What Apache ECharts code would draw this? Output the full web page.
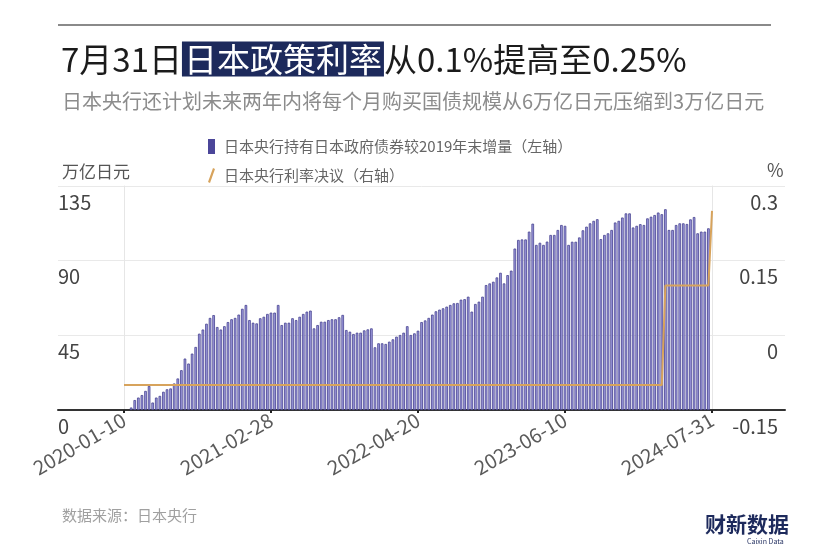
<!DOCTYPE html>
<html>
<head>
<meta charset="utf-8">
<script src="https://cdn.jsdelivr.net/npm/echarts/dist/echarts.min.js"></script>
<style>
html,body{margin:0;padding:0;background:#fff;}
#c{width:840px;height:560px;}
</style>
</head>
<body>
<div id="c"></div>
<script>
// ---- Data ----
const dates = [
'2020-01-10','2020-01-20','2020-01-31','2020-02-10','2020-02-20','2020-02-29','2020-03-10','2020-03-20','2020-03-31',
'2020-04-10','2020-04-20','2020-04-30','2020-05-10','2020-05-20','2020-05-31','2020-06-10','2020-06-20','2020-06-30',
'2020-07-10','2020-07-20','2020-07-31','2020-08-10','2020-08-20','2020-08-31','2020-09-10','2020-09-20','2020-09-30',
'2020-10-10','2020-10-20','2020-10-31','2020-11-10','2020-11-20','2020-11-30','2020-12-10','2020-12-20','2020-12-31',
'2021-01-10','2021-01-20','2021-01-31','2021-02-10','2021-02-20','2021-02-28','2021-03-10','2021-03-20','2021-03-31',
'2021-04-10','2021-04-20','2021-04-30','2021-05-10','2021-05-20','2021-05-31','2021-06-10','2021-06-20','2021-06-30',
'2021-07-10','2021-07-20','2021-07-31','2021-08-10','2021-08-20','2021-08-31','2021-09-10','2021-09-20','2021-09-30',
'2021-10-10','2021-10-20','2021-10-31','2021-11-10','2021-11-20','2021-11-30','2021-12-10','2021-12-20','2021-12-31',
'2022-01-10','2022-01-20','2022-01-31','2022-02-10','2022-02-20','2022-02-28','2022-03-10','2022-03-20','2022-03-31',
'2022-04-10','2022-04-20','2022-04-30','2022-05-10','2022-05-20','2022-05-31','2022-06-10','2022-06-20','2022-06-30',
'2022-07-10','2022-07-20','2022-07-31','2022-08-10','2022-08-20','2022-08-31','2022-09-10','2022-09-20','2022-09-30',
'2022-10-10','2022-10-20','2022-10-31','2022-11-10','2022-11-20','2022-11-30','2022-12-10','2022-12-20','2022-12-31',
'2023-01-10','2023-01-20','2023-01-31','2023-02-10','2023-02-20','2023-02-28','2023-03-10','2023-03-20','2023-03-31',
'2023-04-10','2023-04-20','2023-04-30','2023-05-10','2023-05-20','2023-05-31','2023-06-10','2023-06-20','2023-06-30',
'2023-07-10','2023-07-20','2023-07-31','2023-08-10','2023-08-20','2023-08-31','2023-09-10','2023-09-20','2023-09-30',
'2023-10-10','2023-10-20','2023-10-31','2023-11-10','2023-11-20','2023-11-30','2023-12-10','2023-12-20','2023-12-31',
'2024-01-10','2024-01-20','2024-01-31','2024-02-10','2024-02-20','2024-02-29','2024-03-10','2024-03-20','2024-03-31',
'2024-04-10','2024-04-20','2024-04-30','2024-05-10','2024-05-20','2024-05-31','2024-06-10','2024-06-20','2024-06-30',
'2024-07-10','2024-07-20','2024-07-31'
];

// 日本央行持有日本政府债券较2019年末增量（万亿日元）
const bondIncrease = [
null,null,1.5,6,7.5,9,11.5,14.5,4.5,
7.5,8.5,11,12.5,13,16,19,24,31,
28,34,38,46,48.5,52,55.5,57.2,50,
48.5,50.5,53,54.7,55.5,57.5,61,63.3,54.2,
52.6,52.2,55.3,56.2,57.9,58.7,58.7,63.3,51.2,
52.6,52.6,55.3,54.2,56.2,57.9,59.3,59.9,49.2,
51.2,53.2,53.2,54.2,54.7,54.7,55.9,57.3,48.2,
47.2,45.8,46.6,46.6,48,48.6,49.2,37.8,40.2,
40.2,39.8,41.2,42.6,44.2,45.2,46.6,50.5,45.2,
46.2,47.8,53,54,55.5,57.5,59.5,60.5,61.3,
62.3,63.3,64.3,64.5,66.5,66.8,68.3,59.3,63.9,
65.3,68.3,75.3,76.3,77.3,79.9,82.7,76.3,81.3,
84,97.3,102.5,102.8,102.8,107.5,112.3,99.5,100.8,
99.5,101.5,105.5,105.5,108.5,111.5,111,99.5,101.4,
101.4,104,108.3,110.5,112.5,114,115,103,105.5,
106.5,108.5,113,114,116,118.5,118.5,110,111,
112,111.5,115.5,116.5,117.5,119,118,121,108.5,
108.5,111.5,112.5,112.5,112.1,114.9,116.3,106.5,107.5,
107.5,109.5,null
];

// 日本央行利率决议（%）
const policyRate = [
-0.1,-0.1,-0.1,-0.1,-0.1,-0.1,-0.1,-0.1,-0.1,
-0.1,-0.1,-0.1,-0.1,-0.1,-0.1,-0.1,-0.1,-0.1,
-0.1,-0.1,-0.1,-0.1,-0.1,-0.1,-0.1,-0.1,-0.1,
-0.1,-0.1,-0.1,-0.1,-0.1,-0.1,-0.1,-0.1,-0.1,
-0.1,-0.1,-0.1,-0.1,-0.1,-0.1,-0.1,-0.1,-0.1,
-0.1,-0.1,-0.1,-0.1,-0.1,-0.1,-0.1,-0.1,-0.1,
-0.1,-0.1,-0.1,-0.1,-0.1,-0.1,-0.1,-0.1,-0.1,
-0.1,-0.1,-0.1,-0.1,-0.1,-0.1,-0.1,-0.1,-0.1,
-0.1,-0.1,-0.1,-0.1,-0.1,-0.1,-0.1,-0.1,-0.1,
-0.1,-0.1,-0.1,-0.1,-0.1,-0.1,-0.1,-0.1,-0.1,
-0.1,-0.1,-0.1,-0.1,-0.1,-0.1,-0.1,-0.1,-0.1,
-0.1,-0.1,-0.1,-0.1,-0.1,-0.1,-0.1,-0.1,-0.1,
-0.1,-0.1,-0.1,-0.1,-0.1,-0.1,-0.1,-0.1,-0.1,
-0.1,-0.1,-0.1,-0.1,-0.1,-0.1,-0.1,-0.1,-0.1,
-0.1,-0.1,-0.1,-0.1,-0.1,-0.1,-0.1,-0.1,-0.1,
-0.1,-0.1,-0.1,-0.1,-0.1,-0.1,-0.1,-0.1,-0.1,
-0.1,-0.1,-0.1,-0.1,-0.1,-0.1,-0.1,0.1,0.1,
0.1,0.1,0.1,0.1,0.1,0.1,0.1,0.1,0.1,
0.1,0.1,0.25
];

const leftTicks = {min: 0, max: 135, interval: 45};
const rightTicks = {min: -0.15, max: 0.3, interval: 0.15};

const seriesNames = ['日本央行持有日本政府债券较2019年末增量（左轴）', '日本央行利率决议（右轴）'];
const titleText = ['7月31日', '日本政策利率', '从0.1%提高至0.25%'];
const subtitleText = '日本央行还计划未来两年内将每个月购买国债规模从6万亿日元压缩到3万亿日元';
const sourceText = '数据来源：日本央行';

// ---- Chart ----
const FONT = '"Noto Sans CJK SC", "Noto Sans", sans-serif';
const chart = echarts.init(document.getElementById('c'), null, {renderer: 'canvas'});

const option = {
  backgroundColor: '#ffffff',
  animation: false,
  textStyle: {fontFamily: FONT},
  graphic: [
    {type: 'line', shape: {x1: 58, y1: 25, x2: 771, y2: 25}, style: {stroke: '#8a8a8a', lineWidth: 2}}
  ],
  title: [
    {
      text: '{a|' + titleText[0] + '}{b|' + titleText[1] + '}{a|' + titleText[2] + '}',
      left: 56, top: 34,
      textStyle: {
        rich: {
          a: {fontSize: 33, color: '#1b1b1b', fontFamily: FONT, fontWeight: 'normal', lineHeight: 40},
          b: {fontSize: 33, color: '#ffffff', fontFamily: FONT, fontWeight: 'normal', backgroundColor: '#1d2a5c', padding: [1, 2, 1, 2], lineHeight: 40}
        }
      }
    },
    {text: subtitleText, left: 57, top: 86, textStyle: {fontSize: 20, color: '#8c8c8c', fontWeight: 'normal', fontFamily: FONT}},
    {text: '万亿日元', left: 57, top: 158, textStyle: {fontSize: 17, color: '#555', fontWeight: 'normal', fontFamily: FONT}},
    {text: '%', left: 762, top: 156, textStyle: {fontSize: 18, color: '#555', fontWeight: 'normal', fontFamily: FONT}},
    {text: sourceText, left: 57, top: 503, textStyle: {fontSize: 15, color: '#a0a0a0', fontWeight: 'normal', fontFamily: FONT}},
    {text: '财新数据', left: 700, top: 509,
      textStyle: {fontSize: 21, color: '#1d2a5c', fontWeight: 'bold', fontFamily: FONT}},
    {text: 'Caixin Data', left: 742, top: 533,
      textStyle: {fontSize: 7, color: '#1d2a5c', fontWeight: 'normal', fontFamily: FONT}}
  ],
  legend: {
    orient: 'vertical', left: 203, top: 134, itemGap: 14, itemWidth: 7, itemHeight: 15,
    textStyle: {fontSize: 15, color: '#666', fontFamily: FONT, padding: [0, 0, 0, 4]},
    data: [
      {name: seriesNames[0], icon: 'rect', itemStyle: {color: '#4b4699', borderWidth: 0}},
      {name: seriesNames[1], icon: 'path://M0,14 L5,0 L7,1 L2,15 Z', itemStyle: {color: '#d7a35c'}, lineStyle: {opacity: 0, width: 0}}
    ]
  },
  grid: [
    {left: 58, right: 55, top: 186, bottom: 150},
    {left: 124, right: 128, top: 186, bottom: 150}
  ],
  xAxis: [
    {gridIndex: 0, type: 'value', min: 0, max: 1, axisLine: {show: true, onZero: false, lineStyle: {color: '#333', width: 2}},
      axisTick: {show: false}, axisLabel: {show: false}, splitLine: {show: false}},
    {gridIndex: 1, type: 'category', data: dates, boundaryGap: false,
      axisLine: {show: false},
      axisTick: {show: true, interval: 40, length: 3, lineStyle: {color: '#222', width: 2}},
      axisLabel: {interval: 40, rotate: 30, fontSize: 20, color: '#5a5a5a', margin: 8, fontFamily: FONT},
      splitLine: {show: false}}
  ],
  yAxis: [
    {gridIndex: 0, type: 'value', min: leftTicks.min, max: leftTicks.max, interval: leftTicks.interval,
      axisLine: {show: false}, axisTick: {show: false}, axisLabel: {show: false},
      splitLine: {show: true, lineStyle: {color: '#e9e9e9', width: 1}}},
    {gridIndex: 1, type: 'value', position: 'left', min: leftTicks.min, max: leftTicks.max, interval: leftTicks.interval,
      axisLine: {show: true, lineStyle: {color: '#e6e6e6'}}, axisTick: {show: false}, splitLine: {show: false},
      axisLabel: {align: 'left', margin: 66, verticalAlign: 'top', padding: [6, 0, 0, 0], fontSize: 20, color: '#444', fontFamily: FONT}},
    {gridIndex: 1, type: 'value', position: 'right', min: rightTicks.min, max: rightTicks.max, interval: rightTicks.interval,
      axisLine: {show: true, lineStyle: {color: '#e6e6e6'}}, axisTick: {show: false}, splitLine: {show: false},
      axisLabel: {align: 'right', margin: 66, verticalAlign: 'top', padding: [6, 0, 0, 0], fontSize: 20, color: '#444', fontFamily: FONT,
        formatter: function (v) { return String(Math.round(v * 100) / 100); }}}
  ],
  series: [
    {name: seriesNames[0], type: 'bar', xAxisIndex: 1, yAxisIndex: 1, data: bondIncrease, barWidth: 2.6,
      itemStyle: {color: '#9f9bdf', borderColor: '#46428f', borderWidth: 0.8}, z: 2},
    {name: seriesNames[1], type: 'line', xAxisIndex: 1, yAxisIndex: 2, data: policyRate, symbol: 'none',
      lineStyle: {color: '#d7a35c', width: 2}, itemStyle: {color: '#d7a35c'}, z: 3}
  ]
};
chart.setOption(option);
</script>
</body>
</html>
